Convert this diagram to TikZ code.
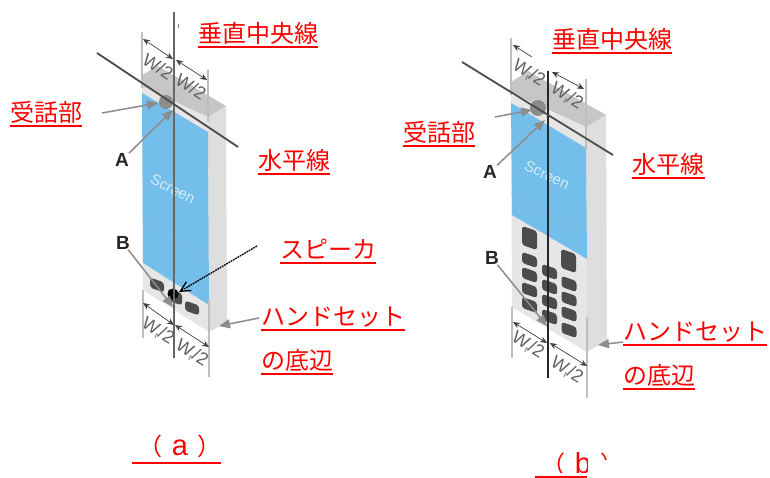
\documentclass[tikz,border=0pt]{standalone}
\usepackage{fontspec}
\setmainfont{Liberation Sans}
\newfontfamily\jpfont{Noto Sans CJK JP}
\usetikzlibrary{arrows.meta}
\definecolor{scr}{HTML}{74BEEC}
\definecolor{topg}{HTML}{C6C6C6}
\definecolor{frontg}{HTML}{E6E6E6}
\definecolor{sideg}{HTML}{DEDEDE}
\definecolor{keyd}{HTML}{4C4C4C}
\definecolor{guide}{HTML}{BEBEBE}
\definecolor{redlab}{HTML}{FF0000}
\tikzset{
  redtext/.style={font=\jpfont\fontsize{24}{24}\selectfont,text=redlab,inner sep=0pt,anchor=south west,minimum height=24pt,text height=20pt,text depth=3pt},
  ul/.style={draw=redlab,line width=2pt},
  guideline/.style={draw=guide,line width=1.2pt},
  axisv/.style={draw=#1,line width=1.8pt},
  axish/.style={draw=black!70,line width=1.8pt},
  dim/.style={draw=black!75,line width=.7pt,{Stealth[length=7pt,width=6pt]}-{Stealth[length=7pt,width=6pt]}},
  dimlab/.style={font=\fontsize{18}{18}\selectfont,text=black!62,inner sep=0pt},
  letter/.style={font=\bfseries\fontsize{19}{19}\selectfont,text=black!85,inner sep=0pt},
  callout/.style={draw=black!45,line width=1.5pt,-{Triangle[length=11pt,width=9pt]}},
  screentext/.style={font=\fontsize{15}{15}\selectfont,text=white!70!scr,inner sep=0pt},
  speakerarrow/.style={draw=black,line width=1.3pt,dash pattern=on 1.8pt off .8pt,-{Straight Barb[length=10pt,width=10pt]}},
  keyshape/.style={fill=keyd,rounded corners=3pt},
  faint/.style={draw=white!75!black!30!scr,line width=.5pt}
}
\newcommand{\sub}{\raisebox{-2pt}{\fontsize{8}{8}\selectfont t}}
\newcommand{\redlabel}[5]{\node[redtext] (#1) at (#2,#3) {#5};\draw[ul] (#2,#3+1) -- ++(#4,0);}
\newcommand{\phonekey}[4]{\fill[keyshape] (#1-#3,#2-#4-.35*#3) -- (#1+#3,#2-#4+.35*#3) -- (#1+#3,#2+#4+.35*#3) -- (#1-#3,#2+#4-.35*#3) -- cycle;}
\begin{document}
\begin{tikzpicture}[x=1pt,y=-1pt]
\useasboundingbox (0,0) rectangle (770,478);
\fill[white] (0,0) rectangle (770,478);

% ---------- panel (a) ----------
\fill[sideg] (208,117) -- (226,106) -- (227,322) -- (209,332) -- cycle;
\fill[frontg] (142,86) -- (208,117) -- (209,332) -- (143,290) -- cycle;
\fill[topg] (142,75) -- (158,66) -- (226,106) -- (208,117) -- (142,86) -- cycle;
\fill[scr] (142,93) -- (208,132) -- (209,305) -- (143,263) -- cycle;
\draw[faint] (143,221) -- (209,258);
\node[screentext,rotate=-27] (scra) at (173,189) {Screen};
\draw[guideline] (142,32) -- (142,88);
\draw[guideline] (208,70) -- (208,122);
\draw[guideline] (143,290) -- (143,338);
\draw[guideline] (209,300) -- (209,377);
\fill[black!45] (166,102) circle (7);
\phonekey{157}{285}{7}{5}
\phonekey{175}{297}{7}{6}
\phonekey{192}{308}{7}{5}
\fill[black] (173,294) circle (5.5);
\draw[axisv=black!60] (174,12) -- (174,358);
\draw[axish] (97,53) -- (238,147);
\draw[black!50,line width=.8pt] (178,28) arc (160:200:6);
\coordinate (aT) at (143,39); \coordinate (aM) at (173,59);
\coordinate (aM2) at (176,60); \coordinate (aR) at (207,80);
\draw[dim] (aT) -- (aM);
\draw[dim] (aM2) -- (aR);
\node[dimlab,rotate=-32] (w1) at (158,67) {W/2};
\node[dimlab,rotate=-32] (w2) at (191,87) {W/2};
\coordinate (aB1) at (143,303); \coordinate (aB2) at (174,325);
\coordinate (aB3) at (175,325); \coordinate (aB4) at (209,347);
\draw[dim] (aB1) -- (aB2);
\draw[dim] (aB3) -- (aB4);
\node[dimlab,rotate=-32] (w3) at (158,331) {W\sub/2};
\node[dimlab,rotate=-32] (w4) at (192,353) {W\sub/2};
\node[letter] (Aa) at (122,160) {A};
\node[letter] (Ba) at (123,243) {B};
\coordinate (Aat) at (173,110); \coordinate (Bat) at (173,307);
\draw[callout] (Aa) -- (Aat);
\draw[callout] (Ba) -- (Bat);
\coordinate (rxa0) at (102,113); \coordinate (rxa1) at (158,103);
\draw[callout] (rxa0) -- (rxa1);
\coordinate (hba0) at (259,318); \coordinate (hba1) at (219,326);
\draw[callout] (hba0) -- (hba1);
\coordinate (spk0) at (257,246); \coordinate (spk1) at (179,292);
\draw[speakerarrow] (spk0) -- (spk1);

\redlabel{a1}{198}{46}{120}{垂直中央線}
\redlabel{a2}{10}{125}{72}{受話部}
\redlabel{a3}{258}{173}{72}{水平線}
\redlabel{a4}{280}{262}{96}{スピーカ}
\redlabel{a5}{261}{329}{144}{ハンドセット}
\redlabel{a6}{261}{373}{72}{の底辺}
\node[redtext,anchor=center] (capa) at (180,447) {（\hspace{9pt}{\rmfamily\fontsize{29}{29}\selectfont a}\hspace{9pt}）};
\draw[ul] (132,463) -- (221,463);

% ---------- panel (b) ----------
\fill[sideg] (586,127) -- (606,115) -- (607,340) -- (587,352) -- cycle;
\fill[frontg] (511,95) -- (586,127) -- (587,352) -- (512,307) -- cycle;
\fill[topg] (511,82) -- (528,71) -- (606,115) -- (586,127) -- (511,93) -- cycle;
\fill[scr] (511,103) -- (586,148) -- (587,259) -- (512,215) -- cycle;
\draw[faint] (511,193) -- (586,235);
\node[screentext,rotate=-25] (scrb) at (547,175) {Screen};
\draw[guideline] (511,38) -- (511,95);
\draw[guideline] (586,79) -- (586,150);
\draw[guideline] (512,307) -- (512,358);
\draw[guideline] (587,317) -- (587,398);
\fill[black!45] (538,108) circle (8);
\phonekey{529.5}{238}{7.5}{9.5}
\phonekey{529.5}{260}{7.5}{5.5}
\phonekey{529.5}{275}{7.5}{5.5}
\phonekey{529.5}{290}{7.5}{5.5}
\phonekey{529.5}{305}{7.5}{5.5}
\phonekey{549.5}{272}{7.5}{5.5}
\phonekey{549.5}{287}{7.5}{5.5}
\phonekey{549.5}{302}{7.5}{5.5}
\phonekey{549.5}{317}{7.5}{5.5}
\phonekey{568.5}{261}{7.5}{9.5}
\phonekey{569}{284}{7.5}{5.5}
\phonekey{569}{299}{7.5}{5.5}
\phonekey{569}{314}{7.5}{5.5}
\phonekey{569}{330}{7.5}{5.5}
\draw[axisv=black!85] (548,71) -- (548,378);
\draw[axish] (462,62) -- (613,155);
\coordinate (bT) at (513,45); \coordinate (bM) at (532,57);
\coordinate (bM2) at (552,72); \coordinate (bR) at (584,89);
\draw[dim,{Stealth[length=7pt,width=6pt]}-] (bT) -- (bM);
\draw[dim] (bM2) -- (bR);
\node[dimlab,rotate=-32] (w5) at (529,73) {W\sub/2};
\node[dimlab,rotate=-32] (w6) at (567,96) {W\sub/2};
\coordinate (bB1) at (513,322); \coordinate (bB2) at (547,343);
\coordinate (bB3) at (550,343); \coordinate (bB4) at (587,366);
\draw[dim] (bB1) -- (bB2);
\draw[dim] (bB3) -- (bB4);
\node[dimlab,rotate=-32] (w7) at (528,345) {W\sub/2};
\node[dimlab,rotate=-32] (w8) at (567,370) {W\sub/2};
\node[letter] (Ab) at (490,172) {A};
\node[letter] (Bb) at (492,258) {B};
\coordinate (Abt) at (545,120); \coordinate (Bbt) at (547,326);
\draw[callout] (Ab) -- (Abt);
\draw[callout] (Bb) -- (Bbt);
\coordinate (rxb0) at (495,117); \coordinate (rxb1) at (532,110);
\draw[callout] (rxb0) -- (rxb1);
\coordinate (hbb0) at (623,342); \coordinate (hbb1) at (598,345);
\draw[callout] (hbb0) -- (hbb1);

\redlabel{b1}{552}{52}{120}{垂直中央線}
\redlabel{b2}{403}{145}{72}{受話部}
\redlabel{b3}{632}{177}{73}{水平線}
\redlabel{b5}{623}{344}{144}{ハンドセット}
\redlabel{b6}{623}{388}{72}{の底辺}
\node[redtext,anchor=center] (capb) at (583,465) {（\hspace{9pt}{\rmfamily\fontsize{29}{29}\selectfont b}\hspace{9pt}）};
\fill[white] (587.5,445) rectangle (598,478);
\fill[white] (535,473) rectangle (598,478);
\fill[white] (598,460) rectangle (625,478);
\draw[draw=redlab,line width=1.5pt] (535,477) -- (587,477);
\end{tikzpicture}
\end{document}
